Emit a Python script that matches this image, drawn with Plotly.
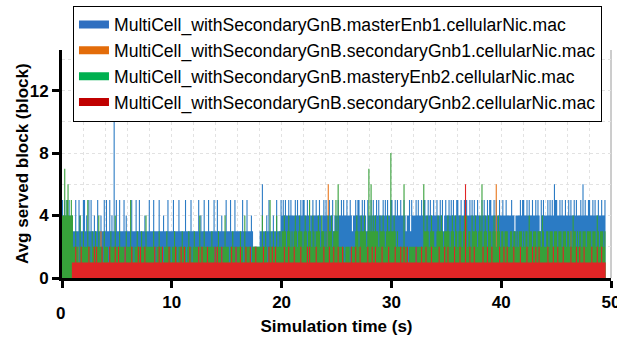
import plotly.graph_objects as go

# Sampling interval of the recorded vectors (seconds per sample)
STEP = 0.1

NAMES = [
    "MultiCell_withSecondaryGnB.masterEnb1.cellularNic.mac",
    "MultiCell_withSecondaryGnB.secondaryGnb1.cellularNic.mac",
    "MultiCell_withSecondaryGnB.masteryEnb2.cellularNic.mac",
    "MultiCell_withSecondaryGnB.secondaryGnb2.cellularNic.mac",
]

# Avg served blocks per 0.1 s sample, one hex digit per sample, 10 samples per second
master_enb1 = [
    "5454545344", "3353354335", "5343535334", "3353343353", "5335343b35",
    "3353335343", "3335333533", "5333343335", "3335333353", "3343335333",
    "3533335333", "3353333533", "3333534335", "3335333353", "3533343335",
    "3335333533", "3333533353", "3343222222", "3363334353", "3343353335",
    "4545445454", "4454544545", "5445434454", "4544543454", "5445445344",
    "4544545445", "4454344545", "5445454354", "4545445454", "4454545445",
    "5445454454", "4543445354", "4454544545", "5445454454", "4544545345",
    "4454545445", "5445445454", "4545454454", "4454544545", "5445454454",
    "4544544445", "4434444545", "5445454454", "4545435454", "4454545465",
    "5445454454", "4545445454", "4454645445", "5445454454", "454454",
]
secondary_gnb1 = [
    "0000000001", "1111211111", "1111111111", "1111131111", "1111111111",
    "1111111111", "1121111111", "1111111111", "1111111211", "1111111111",
    "1111111111", "1111111111", "1111121111", "1111111111", "1111111111",
    "1111111111", "1111111111", "1111111111", "1111111111", "1111111111",
    "1111111111", "1111111111", "1111111111", "1111111111", "1161111111",
    "1111111111", "1111211111", "1111111111", "1111111111", "1111111111",
    "1111111111", "1111111111", "1111111111", "1111111111", "1111111111",
    "1111111111", "1111111111", "1111111111", "1111111111", "1111161111",
    "1111111111", "1111111111", "1111111111", "1111111111", "1111111111",
    "1111111111", "1113111111", "1111111111", "1111111111", "111111",
]
mastery_enb2 = [
    "4474564454", "2232214223", "2225221322", "3224222132", "2212322242",
    "2232222132", "2252212232", "2132224222", "2223212232", "2212232221",
    "2232212223", "2221232212", "3222142223", "2212223221", "2232212242",
    "2212232212", "2232214222", "2212222222", "2242232125", "2232242232",
    "3343234323", "2343234332", "3432353243", "2334324332", "3243342335",
    "3622222122", "2212222343", "2343343237", "3634343324", "3343234338",
    "3343232222", "2622212222", "2212222226", "3343234332", "2343343233",
    "3432343243", "2343234342", "3324334323", "4362343243", "3234323432",
    "3323332233", "2332323332", "3233243323", "3323332432", "2332333233",
    "3233323332", "3323243323", "2332333233", "3323332432", "333233",
]
secondary_gnb2 = [
    "0000000001", "1121111211", "1111211112", "1211112111", "1112111121",
    "1211111211", "1112111112", "1211121111", "1111211121", "1211111211",
    "1112111121", "1211112111", "1111211211", "1121111112", "1211121111",
    "1111211121", "1121111211", "1211112111", "1112111121", "1211211111",
    "1121112111", "1211111211", "1112121111", "1211111121", "1112111211",
    "1211121111", "1112111211", "1211111121", "1121121111", "1211111211",
    "1112111121", "1211211111", "1121111211", "1211112111", "1112111121",
    "1211111211", "1121111611", "1211121111", "1112111211", "1211111121",
    "1121121111", "1211111211", "1112111121", "1211211111", "1121111211",
    "1211112111", "1112111121", "1211121111", "1121111211", "121111",
]

SERIES = [master_enb1, secondary_gnb1, mastery_enb2, secondary_gnb2]
FILL_COLORS = ["#2b7bc4", "#e8761c", "#37a03a", "#e02526"]
LEGEND_COLORS = ["#2f6fc0", "#e36c0a", "#00b050", "#c00000"]

X_TICKS = [0, 10, 20, 30, 40, 50]
X_TICK_TEXT = ["", "10", "20", "30", "40", "50"]
Y_TICKS = [0, 4, 8, 12]

FONT = "Liberation Sans, Arial, sans-serif"


def decode(chunks):
    return [int(c, 16) for c in "".join(chunks)]


fig = go.Figure()

# Step-filled areas, first series at the back
for chunks, color in zip(SERIES, FILL_COLORS):
    values = decode(chunks)
    times = [round(i * STEP, 1) for i in range(len(values))]
    fig.add_trace(go.Scatter(
        x=times, y=values, mode="lines",
        line=dict(shape="hv", width=0, color=color),
        fill="tozeroy", fillcolor=color,
        showlegend=False, hoverinfo="skip",
    ))

# Legend entries drawn as thick bars
for name, color in zip(NAMES, LEGEND_COLORS):
    fig.add_trace(go.Scatter(
        x=[None], y=[None], mode="lines", name=name,
        line=dict(color=color, width=8),
    ))

grid = dict(gridcolor="#e2e2e2", griddash="dot", gridwidth=1)
tickfont = dict(family=FONT, size=17, color="black", weight="bold")

fig.update_layout(
    width=617, height=338,
    margin=dict(l=62, r=6, t=50, b=60),
    paper_bgcolor="white", plot_bgcolor="white",
    font=dict(family=FONT, color="black"),
    showlegend=True,
    legend=dict(
        x=0.02, y=1.195, xanchor="left", yanchor="top",
        bgcolor="white", bordercolor="black", borderwidth=1,
        font=dict(family=FONT, size=17.6, color="black"),
        itemwidth=30, tracegroupgap=0,
    ),
    xaxis=dict(
        range=[0, 50], tickvals=X_TICKS, ticktext=X_TICK_TEXT,
        ticks="outside", ticklen=7, tickwidth=3, tickcolor="black",
        ticklabeloverflow="allow", automargin=False,
        showline=True, linewidth=3, linecolor="black",
        showgrid=True, zeroline=False, tickfont=tickfont,
        minor=dict(dtick=2, showgrid=True, **grid),
        title=dict(text="Simulation time (s)", font=tickfont, standoff=9),
        **grid,
    ),
    yaxis=dict(
        range=[0, 14.6], tickvals=Y_TICKS,
        ticks="outside", ticklen=7, tickwidth=3, tickcolor="black",
        showline=True, linewidth=3, linecolor="black",
        showgrid=True, zeroline=False, tickfont=tickfont,
        minor=dict(dtick=2, showgrid=True, **grid),
        **grid,
    ),
    shapes=[dict(type="line", xref="paper", yref="paper", x0=1, x1=1, y0=0, y1=1,
                 line=dict(color="#9a9a9a", width=1), layer="below")],
    annotations=[
        dict(text="0", xref="x", x=0, yref="paper", y=0,
             xanchor="center", yanchor="middle", xshift=-2, yshift=-35,
             showarrow=False, font=tickfont),
        dict(text="Avg served block (block)", textangle=-90,
             xref="paper", x=0, yref="paper", y=0.5,
             xanchor="center", yanchor="middle", xshift=-40,
             showarrow=False, font=tickfont),
    ],
)

fig.write_html("out.html")
